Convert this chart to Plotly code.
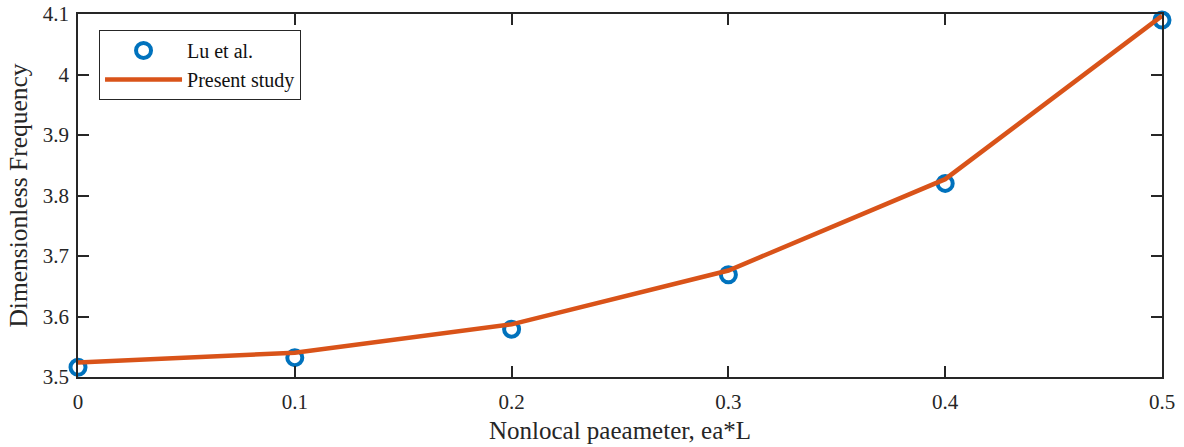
import plotly.graph_objects as go

x_vals = [0, 0.1, 0.2, 0.3, 0.4, 0.5]
lu_vals = [3.516, 3.532, 3.579, 3.669, 3.820, 4.090]
present_vals = [3.524, 3.540, 3.587, 3.676, 3.827, 4.097]
x_ticks = [0, 0.1, 0.2, 0.3, 0.4, 0.5]
y_ticks = [3.5, 3.6, 3.7, 3.8, 3.9, 4.0, 4.1]
y_ticklabels = ["3.5", "3.6", "3.7", "3.8", "3.9", "4", "4.1"]

fig = go.Figure()
fig.add_trace(go.Scatter(
    x=x_vals, y=lu_vals, mode="markers", name="Lu et al.",
    marker=dict(symbol="circle-open", size=15, color="#0072BD", line=dict(width=4, color="#0072BD")),
    cliponaxis=False,
))
fig.add_trace(go.Scatter(
    x=x_vals, y=present_vals, mode="lines", name="Present study",
    line=dict(color="#D95319", width=4.5),
    cliponaxis=False,
))

font_family = "Liberation Serif"
axis_common = dict(
    showline=True, linecolor="#262626", linewidth=1.5, mirror="ticks",
    ticks="inside", ticklen=11, tickwidth=1.5, tickcolor="#262626",
    showgrid=False, zeroline=False, automargin=False,
    tickfont=dict(family=font_family, size=21, color="#262626"),
)
fig.update_layout(
    width=1184, height=447,
    margin=dict(l=78, r=22, t=14, b=70),
    plot_bgcolor="white", paper_bgcolor="white",
    showlegend=True,
    font=dict(family=font_family),
    legend=dict(
        x=0.0194, y=0.956, xanchor="left", yanchor="top",
        bgcolor="white", bordercolor="#262626", borderwidth=1,
        font=dict(family=font_family, size=20, color="#111111"),
        itemwidth=77, tracegroupgap=0,
    ),
    xaxis=dict(
        range=[0, 0.5], tickvals=x_ticks, ticktext=[str(v) for v in x_ticks],
        ticklabelstandoff=5,
        title=dict(text="Nonlocal paeameter, ea*L", font=dict(family=font_family, size=25, color="#262626"), standoff=9),
        **axis_common,
    ),
    yaxis=dict(
        range=[3.5, 4.1], tickvals=y_ticks, ticktext=y_ticklabels,
        ticklabelstandoff=3,
        title=dict(text="Dimensionless Frequency", font=dict(family=font_family, size=25.5, color="#262626"), standoff=8),
        **axis_common,
    ),
)
fig.write_html("out.html")
